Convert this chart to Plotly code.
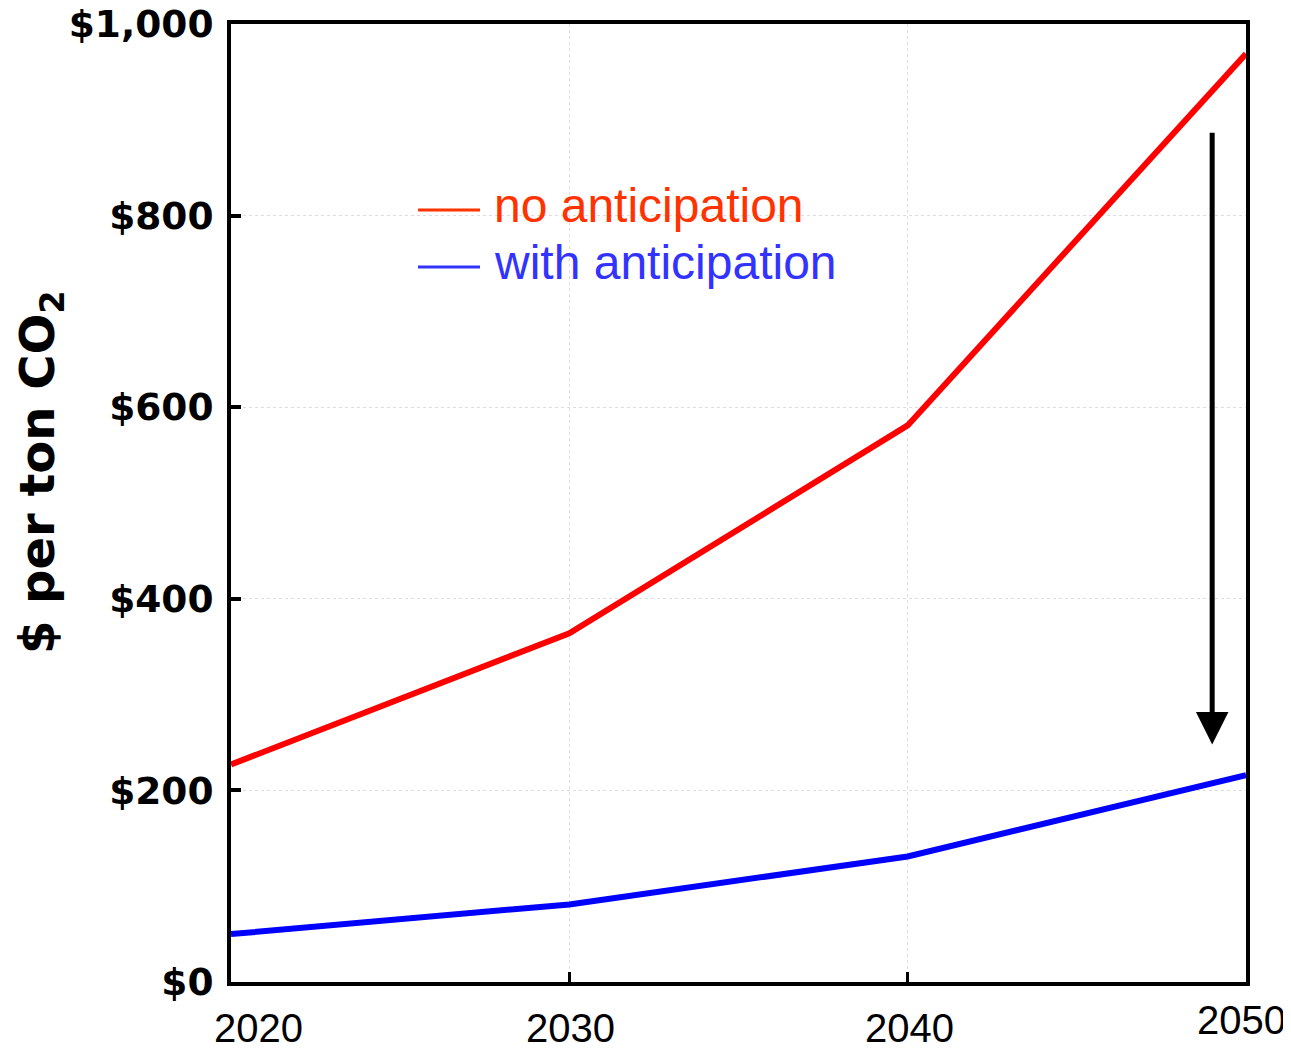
import plotly.graph_objects as go

years = [2020, 2030, 2040, 2050]
no_anticipation = [227, 364, 581, 969]
with_anticipation = [50, 81, 131, 216]

y_tick_vals = [0, 200, 400, 600, 800, 1000]
y_tick_text = ["$0", "$200", "$400", "$600", "$800", "$1,000"]
x_tick_vals = [2020, 2030, 2040, 2050]
x_tick_text = ["2020", "2030", "2040", "2050"]

arrow_year = 2049
arrow_from = 888
arrow_to = 248

series_names = ["no anticipation", "with anticipation"]
line_colors = ["#FF0000", "#0000FF"]
legend_colors = ["#FF3300", "#3333FF"]

# plot area in page pixels (page body has an 8px margin)
L, R, T, B = 231, 1246, 24, 982
PW, PH = R - L, B - T


def px(xp):
    return (xp - L) / PW


def py(yp):
    return (B - yp) / PH


fig = go.Figure()
fig.add_trace(go.Scatter(x=years, y=no_anticipation, mode="lines",
                         line=dict(color=line_colors[0], width=6),
                         name=series_names[0], showlegend=False))
fig.add_trace(go.Scatter(x=years, y=with_anticipation, mode="lines",
                         line=dict(color=line_colors[1], width=6),
                         name=series_names[1], showlegend=False))

# arrow
fig.add_annotation(x=arrow_year, y=arrow_to, ax=arrow_year, ay=arrow_from,
                   xref="x", yref="y", axref="x", ayref="y", text="",
                   showarrow=True, arrowhead=2, arrowwidth=5, arrowsize=1.3,
                   arrowcolor="black")

# custom legend
leg_line_px = [210, 267]
leg_text_px = [205, 262]
for name, col, yl, yt in zip(series_names, legend_colors, leg_line_px, leg_text_px):
    fig.add_shape(type="line", xref="paper", yref="paper",
                  x0=px(418), x1=px(480), y0=py(yl), y1=py(yl),
                  line=dict(color=col, width=3))
    fig.add_annotation(xref="paper", yref="paper", x=px(492), y=py(yt),
                       xanchor="left", yanchor="middle", showarrow=False,
                       text=name,
                       font=dict(family="Liberation Sans, Arial", size=48, color=col))

# x tick labels
x_shifts = [27, 1, 2, -5]
y_shifts = [-22, -22, -22, -14]
for v, t, xs, ys in zip(x_tick_vals, x_tick_text, x_shifts, y_shifts):
    fig.add_annotation(x=v, y=0, xref="x", yref="paper", text=t,
                       showarrow=False, xanchor="center", yanchor="top",
                       xshift=xs, yshift=ys,
                       font=dict(family="Liberation Sans, Arial", size=40, color="black"))

# y title
fig.add_annotation(xref="paper", yref="paper", x=px(40), y=py(472),
                   text="$ per ton CO<sub>2</sub>", textangle=-90,
                   showarrow=False, xanchor="center", yanchor="middle",
                   font=dict(family="DejaVu Sans", size=48, color="black", weight="bold"))

W, H = 1283, 1042
fig.update_layout(
    width=W, height=H,
    margin=dict(l=L - 8, r=8 + W - R, t=T - 8, b=8 + H - B, autoexpand=False),
    paper_bgcolor="white", plot_bgcolor="white",
    showlegend=False,
)
fig.update_xaxes(range=[2020, 2050], tickvals=x_tick_vals, ticktext=x_tick_text,
                 showticklabels=False, ticks="inside", ticklen=10, tickwidth=3,
                 tickcolor="black", showline=True, linewidth=4, linecolor="black",
                 mirror=True, showgrid=True, gridcolor="#dddddd", griddash="dot",
                 gridwidth=1, zeroline=False, automargin=False)
fig.update_yaxes(range=[0, 1000], tickvals=y_tick_vals, ticktext=y_tick_text,
                 ticks="inside", ticklen=10, tickwidth=4, tickcolor="black",
                 showline=True, linewidth=4, linecolor="black", mirror=True,
                 showgrid=True, gridcolor="#dddddd", griddash="dot", gridwidth=1,
                 zeroline=False, ticklabelstandoff=6, automargin=False,
                 ticklabeloverflow="allow",
                 tickfont=dict(family="DejaVu Sans", size=37.5, color="black", weight="bold"))

fig.write_html("out.html")
